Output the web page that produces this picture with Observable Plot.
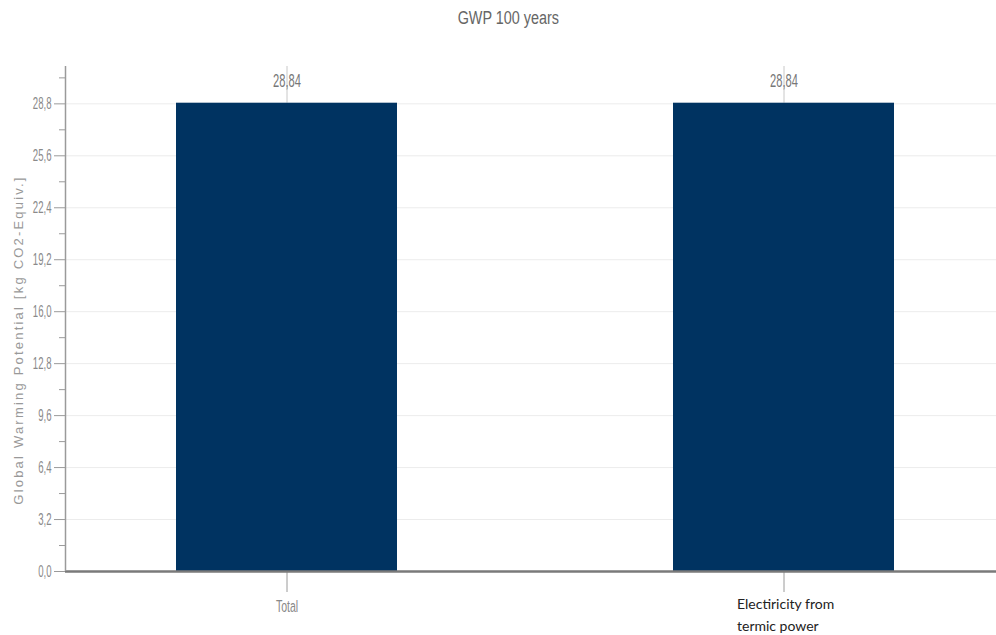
<!DOCTYPE html>
<html><head><meta charset="utf-8">
<script src="https://cdn.jsdelivr.net/npm/d3@7"></script>
<script src="https://cdn.jsdelivr.net/npm/@observablehq/plot@0.6"></script>
<style>
body{margin:0;background:#fff;}
#titlebox{height:36px;width:996px;padding-left:20px;box-sizing:border-box;text-align:center;}
#title{display:inline-block;line-height:36px;font-family:"Liberation Sans",Arial,sans-serif;font-size:18px;color:#666;transform:scaleX(0.8);}
</style></head><body>
<div id="titlebox"><span id="title"></span></div>
<div id="chart"></div>
<script>
const title = "GWP 100 years";
const yLabel = "Global Warming Potential [kg CO2-Equiv.]";
const categories = ["Total", "Electiricity from termic power"];
const values = [28.84, 28.84];
const categoryLabels = ["Total", "Electiricity from\ntermic power"];
const yMajorTicks = [0, 3.2, 6.4, 9.6, 12.8, 16.0, 19.2, 22.4, 25.6, 28.8];
const yMinorTicks = [1.6, 4.8, 8.0, 11.2, 14.4, 17.6, 20.8, 24.0, 27.2, 30.4];
const yMax = 31.1;

document.getElementById("title").textContent = title;
const data = categories.map((c, i) => ({category: c, value: values[i], label: categoryLabels[i]}));
const fmt1 = v => v.toFixed(1).replace(".", ",");
const fmt2 = v => v.toFixed(2).replace(".", ",");
const sans = "'Liberation Sans', Arial, sans-serif";

const chart = Plot.plot({
  width: 996, height: 599,
  marginLeft: 65, marginRight: 0, marginTop: 30, marginBottom: 64,
  style: {background: "#fff", overflow: "visible"},
  x: {type: "band", domain: categories, paddingInner: 0.556, paddingOuter: 0.213, align: 0.52, label: null},
  y: {domain: [0, yMax], label: null},
  marks: [
    Plot.ruleY(yMajorTicks.filter(d => d > 0), {stroke: "#ececec", strokeWidth: 1}),
    Plot.ruleX(data, {x: "category", y1: "value", y2: yMax, stroke: "#c8c8c8"}),
    Plot.barY(data, {x: "category", y: "value", fill: "#003361"}),
    Plot.axisY({ticks: yMinorTicks, tickSize: 6, tickFormat: () => "", stroke: "#9a9a9a", label: null}),
    Plot.axisY({ticks: yMajorTicks, tickSize: 11, tickPadding: 3, tickFormat: fmt1, stroke: "#9a9a9a", fill: "#8a8a8a", fontSize: 16, fontFamily: sans, label: null}),
    Plot.axisX({tickSize: 21, tickFormat: () => "", stroke: "#9a9a9a", label: null}),
    Plot.ruleY([0], {stroke: "#7a7a7a", strokeWidth: 2.5}),
    Plot.text(data, {x: "category", y: "value", text: d => fmt2(d.value), dy: -22, fill: "#777", fontSize: 18, fontFamily: sans, ariaLabel: () => "vlabel"}),
    Plot.text(data.slice(0, 1), {x: "category", y: 0, text: "label", dy: 35, fill: "#888", fontSize: 17, fontFamily: sans, ariaLabel: () => "tlabel"}),
    Plot.text(data.slice(1), {x: "category", y: 0, text: "label", textAnchor: "start", lineAnchor: "top", dx: -47, dy: 22, lineHeight: 1.55, fill: "#222", fontSize: 14, fontFamily: "Lato, sans-serif"}),
    Plot.text([yLabel], {frameAnchor: "left", textAnchor: "middle", rotate: -90, dx: -47, dy: 21, fill: "#999", fontSize: 13, fontFamily: sans, ariaLabel: () => "ylabel"})
  ]
});

// y axis domain line, placed through the y scale
const ys = chart.scale("y");
d3.select(chart).append("line")
  .attr("x1", 65.5).attr("x2", 65.5)
  .attr("y1", ys.apply(0)).attr("y2", ys.apply(yMax))
  .attr("stroke", "#9a9a9a").attr("stroke-width", 1.5);

// horizontally condense the narrow labels
function squeeze(sel, s) {
  sel.each(function() {
    const t = d3.select(this);
    let tr = t.attr("transform");
    if (!tr) {
      tr = `translate(${t.attr("x") || 0},${t.attr("y") || 0})`;
      t.attr("x", null).attr("y", null);
    }
    t.attr("transform", tr + ` scale(${s},1)`);
  });
}
squeeze(d3.select(chart).selectAll('text[aria-label="vlabel"]'), 0.62);
squeeze(d3.select(chart).selectAll('text[aria-label="tlabel"]'), 0.62);
squeeze(d3.select(chart).selectAll('g[aria-label="y-axis tick label"] text'), 0.6);
d3.select(chart).selectAll('text[aria-label="ylabel"]').style("letter-spacing", "2.2px");

document.getElementById("chart").appendChild(chart);
</script>
</body></html>
